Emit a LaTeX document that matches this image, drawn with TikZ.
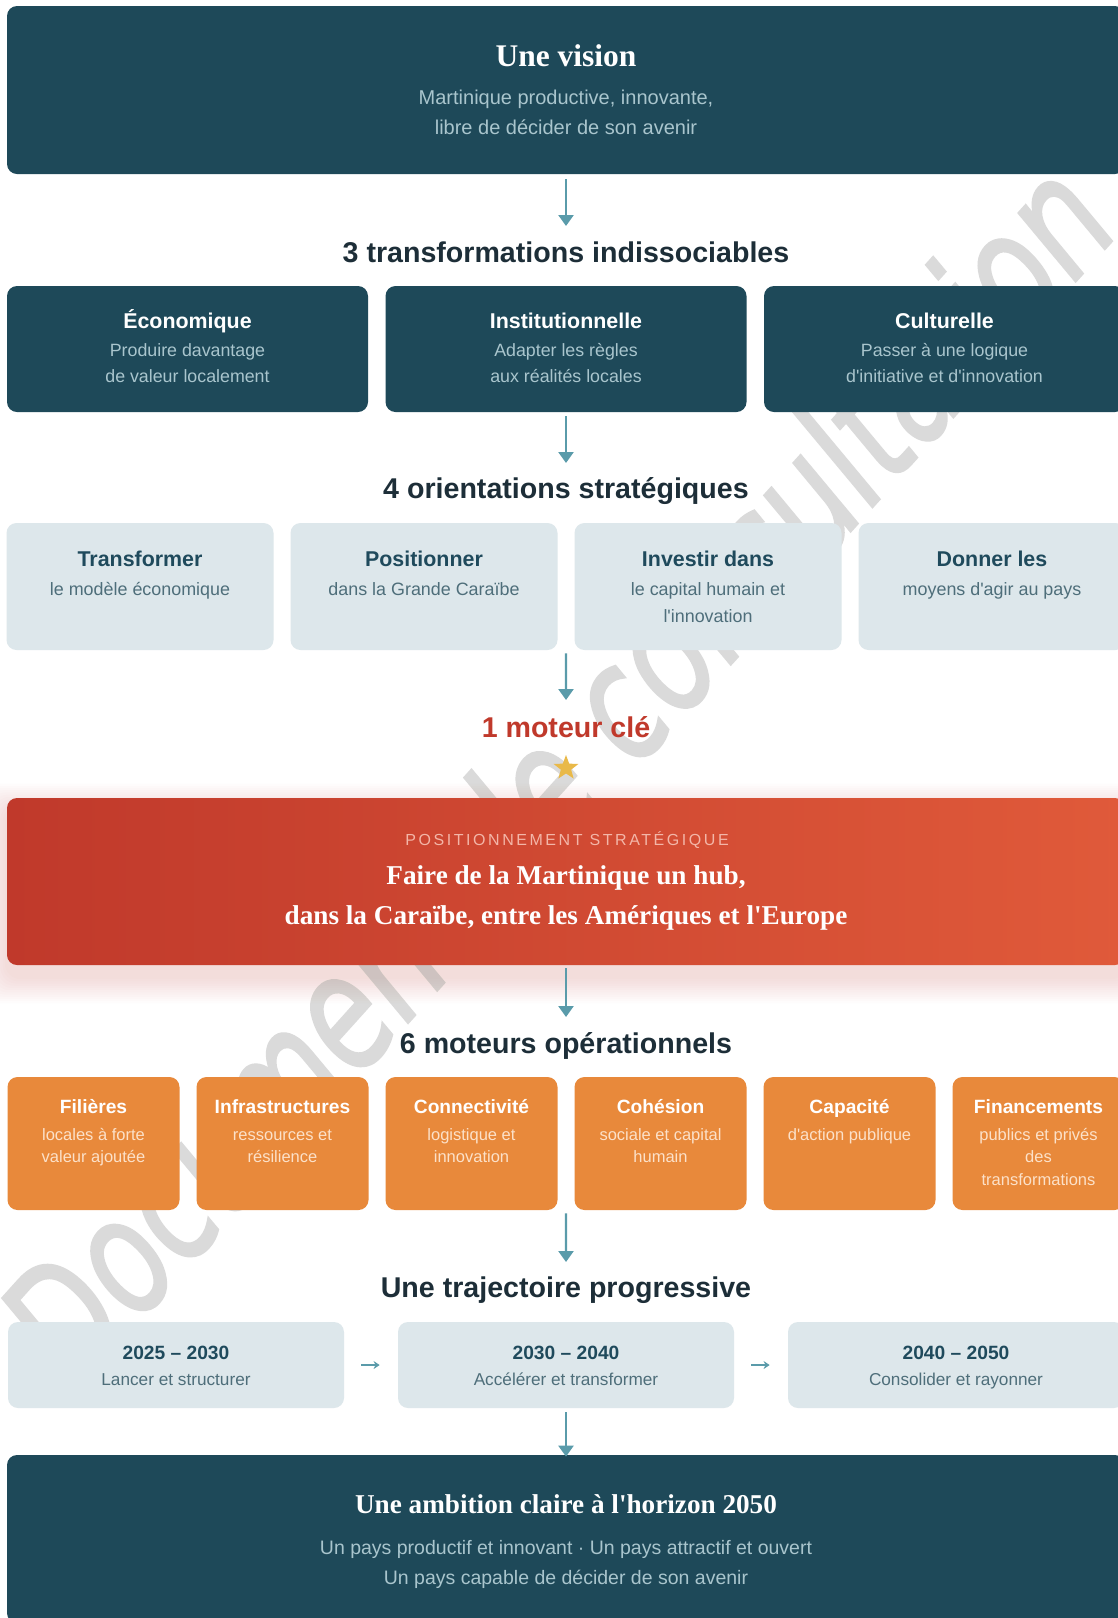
\documentclass[tikz,border=0pt]{standalone}
\usepackage{fontspec}
\setmainfont{Liberation Serif}[Ligatures=TeXOff]
\setsansfont{Liberation Sans}[Ligatures=TeXOff]
\newfontfamily\wmfont[FakeBold=1.8]{DejaVu Sans}
\newfontfamily\spacedfont[LetterSpace=16]{Liberation Sans}
\usetikzlibrary{arrows.meta, calc, shapes.geometric}

\definecolor{navy}{HTML}{1E4959}
\definecolor{ink}{HTML}{1D2E38}
\definecolor{pale}{HTML}{DDE7EB}
\definecolor{paletitle}{HTML}{1F4A5C}
\definecolor{palesub}{HTML}{4E6E7A}
\definecolor{orng}{HTML}{E8893B}
\definecolor{orngsub}{HTML}{FCE1C9}
\definecolor{subtle}{HTML}{A9C5CD}
\definecolor{hubA}{HTML}{C0392B}
\definecolor{hubB}{HTML}{E05A3A}
\definecolor{hublabel}{HTML}{F3B6A8}
\definecolor{flowc}{HTML}{5A9BAA}
\definecolor{gold}{HTML}{E9B949}
\definecolor{wm}{HTML}{DADADA}

\begin{document}
\begin{tikzpicture}[x=0.5pt, y=-0.5pt]

    \tikzstyle{darkbox} = [fill=navy, rounded corners=5pt, inner sep=0];
    \tikzstyle{palebox} = [fill=pale, rounded corners=5pt, inner sep=0];
    \tikzstyle{orangebox} = [fill=orng, rounded corners=5pt, inner sep=0];
    \tikzstyle{sectionhead} = [font=\sffamily\bfseries\fontsize{14.3}{17}\selectfont, text=ink, anchor=base, inner sep=0];
    \tikzstyle{serifhead} = [font=\rmfamily\bfseries\fontsize{13.6}{20.25}\selectfont, text=white, inner sep=0, align=center];
    \tikzstyle{navytitle} = [font=\sffamily\bfseries\fontsize{10.7}{13}\selectfont, text=white, anchor=base, inner sep=0];
    \tikzstyle{navysub} = [font=\sffamily\fontsize{8.9}{13}\selectfont, text=subtle, anchor=north, inner sep=0, align=center];
    \tikzstyle{paletitlet} = [font=\sffamily\bfseries\fontsize{10.7}{13}\selectfont, text=paletitle, anchor=base, inner sep=0];
    \tikzstyle{palesubt} = [font=\sffamily\fontsize{8.95}{13.35}\selectfont, text=palesub, anchor=north, inner sep=0, align=center];
    \tikzstyle{orangetitle} = [font=\sffamily\bfseries\fontsize{9.6}{11}\selectfont, text=white, anchor=base, inner sep=0];
    \tikzstyle{orangesub} = [font=\sffamily\fontsize{8.25}{11.25}\selectfont, text=orngsub, anchor=north, inner sep=0, align=center];
    \tikzstyle{phasetitle} = [font=\sffamily\bfseries\fontsize{9.6}{11}\selectfont, text=paletitle, anchor=base, inner sep=0];
    \tikzstyle{phasesub} = [font=\sffamily\fontsize{8.6}{11}\selectfont, text=palesub, anchor=base, inner sep=0];
    \tikzstyle{flowarrow} = [line width=1.2pt, draw=flowc, -{Triangle[width=7.5pt, length=5.5pt]}];
    \tikzstyle{phasearrow} = [line width=0.7pt, draw=flowc, -{Stealth[width=4pt, length=3pt]}, shorten <=8.5pt, shorten >=9pt];

    \useasboundingbox (0,0) rectangle (1118,1618);
    \fill[white] (0,0) rectangle (1118,1618);

    % Watermark
    \node[rotate=48, xscale=0.74, text=wm, font=\wmfont\itshape\fontsize{80}{84}\selectfont] (WM) at (555,770) {Document de consultation};

    % Vision
    \node[darkbox, minimum width=559pt, minimum height=84pt] (V) at (566,90) {};
    \node[serifhead, anchor=base, font=\rmfamily\bfseries\fontsize{15.75}{19}\selectfont] (VL) at (566,66) {Une vision};
    \node[navysub, font=\sffamily\fontsize{10}{15}\selectfont] (VD) at (566,83.5)
        {\strut Martinique productive, innovante,\\ libre de décider de son avenir};

    \node[sectionhead] (HT) at (566,262.5) {3 transformations indissociables};
    \draw[flowarrow] ([yshift=-2.5pt]V.south) -- ([yshift=18.25pt]HT.base);

    % Transformations
    \node[darkbox, minimum width=180.5pt, minimum height=63pt] (T1) at (187.5,349) {};
    \node[navytitle] (T1L) at (187.5,328.5) {Économique};
    \node[navysub] (T1D) at (187.5,337.8) {\strut Produire davantage\\ de valeur localement};

    \node[darkbox, minimum width=180.5pt, minimum height=63pt] (T2) at (566,349) {};
    \node[navytitle] (T2L) at (566,328.5) {Institutionnelle};
    \node[navysub] (T2D) at (566,337.8) {\strut Adapter les règles\\ aux réalités locales};

    \node[darkbox, minimum width=180.5pt, minimum height=63pt] (T3) at (944.5,349) {};
    \node[navytitle] (T3L) at (944.5,328.5) {Culturelle};
    \node[navysub] (T3D) at (944.5,337.8) {\strut Passer à une logique\\ d'initiative et d'innovation};

    \node[sectionhead] (HO) at (566,498.5) {4 orientations stratégiques};
    \draw[flowarrow] ([yshift=-2pt]T2.south) -- ([yshift=17.75pt]HO.base);

    % Orientations
    \node[palebox, minimum width=133.5pt, minimum height=63.5pt] (O1) at (140,586.5) {};
    \node[paletitlet] (O1L) at (140,566.7) {Transformer};
    \node[palesubt] (O1D) at (140,576.3) {\strut le modèle économique};

    \node[palebox, minimum width=133.5pt, minimum height=63.5pt] (O2) at (424,586.5) {};
    \node[paletitlet] (O2L) at (424,566.7) {Positionner};
    \node[palesubt] (O2D) at (424,576.3) {\strut dans la Grande Caraïbe};

    \node[palebox, minimum width=133.5pt, minimum height=63.5pt] (O3) at (708,586.5) {};
    \node[paletitlet] (O3L) at (708,566.7) {Investir dans};
    \node[palesubt] (O3D) at (708,576.3) {\strut le capital humain et\\ l'innovation};

    \node[palebox, minimum width=133.5pt, minimum height=63.5pt] (O4) at (992,586.5) {};
    \node[paletitlet] (O4L) at (992,566.7) {Donner les};
    \node[palesubt] (O4D) at (992,576.3) {\strut moyens d'agir au pays};

    \node[sectionhead, text=hubA] (HM) at (566,737) {1 moteur clé};
    \draw[flowarrow] ($(O2.south east)!.5!(O3.south west)+(0,3)$) -- ([yshift=18.5pt]HM.base);
    \node[star, star points=5, star point ratio=2.4, fill=gold, inner sep=0, minimum size=13pt] (S) at (566,768) {};

    % Hub
    \foreach \d in {1,...,12}
        \fill[hubA, opacity=0.013, rounded corners=8pt]
            ($(566,881.5)+(-559-2.2*\d,-83.5+12-2.2*\d)$) rectangle ($(566,881.5)+(559+2.2*\d,83.5+12+2.2*\d)$);
    \node[rounded corners=5pt, inner sep=0, left color=hubA, right color=hubB, minimum width=559pt, minimum height=83.5pt] (H) at (566,881.5) {};
    \node[font=\spacedfont\fontsize{8}{10}\selectfont, text=hublabel, anchor=base, inner sep=0] (HL) at (567,845) {POSITIONNEMENT STRATÉGIQUE};
    \node[serifhead, anchor=north] (HD) at (566,855.65)
        {\strut Faire de la Martinique un hub,\\ dans la Caraïbe, entre les Amériques et l'Europe};

    \node[sectionhead] (HS) at (566,1053.5) {6 moteurs opérationnels};
    \draw[flowarrow] ([yshift=-1.5pt]H.south) -- ([yshift=18.25pt]HS.base);

    % Moteurs
    \node[orangebox, minimum width=86pt, minimum height=66.5pt] (M1) at (93.5,1143.5) {};
    \node[orangetitle] (M1L) at (93.5,1113.3) {Filières};
    \node[orangesub] (M1D) at (93.5,1124.25) {\strut locales à forte\\ valeur ajoutée};

    \node[orangebox, minimum width=86pt, minimum height=66.5pt] (M2) at (282.5,1143.5) {};
    \node[orangetitle] (M2L) at (282.5,1113.3) {Infrastructures};
    \node[orangesub] (M2D) at (282.5,1124.25) {\strut ressources et\\ résilience};

    \node[orangebox, minimum width=86pt, minimum height=66.5pt] (M3) at (471.5,1143.5) {};
    \node[orangetitle] (M3L) at (471.5,1113.3) {Connectivité};
    \node[orangesub] (M3D) at (471.5,1124.25) {\strut logistique et\\ innovation};

    \node[orangebox, minimum width=86pt, minimum height=66.5pt] (M4) at (660.5,1143.5) {};
    \node[orangetitle] (M4L) at (660.5,1113.3) {Cohésion};
    \node[orangesub] (M4D) at (660.5,1124.25) {\strut sociale et capital\\ humain};

    \node[orangebox, minimum width=86pt, minimum height=66.5pt] (M5) at (849.5,1143.5) {};
    \node[orangetitle] (M5L) at (849.5,1113.3) {Capacité};
    \node[orangesub] (M5D) at (849.5,1124.25) {\strut d'action publique};

    \node[orangebox, minimum width=86pt, minimum height=66.5pt] (M6) at (1038.5,1143.5) {};
    \node[orangetitle] (M6L) at (1038.5,1113.3) {Financements};
    \node[orangesub] (M6D) at (1038.5,1124.25) {\strut publics et privés\\ des\\ transformations};

    \node[sectionhead] (HP) at (566,1297.5) {Une trajectoire progressive};
    \draw[flowarrow] ($(M3.south east)!.5!(M4.south west)+(0,3)$) -- ([yshift=17.75pt]HP.base);

    % Trajectoire
    \node[palebox, minimum width=168pt, minimum height=43pt] (P1) at (176,1365) {};
    \node[phasetitle] (P1L) at (176,1359) {2025 – 2030};
    \node[phasesub] (P1D) at (176,1385) {Lancer et structurer};

    \node[palebox, minimum width=168pt, minimum height=43pt] (P2) at (566,1365) {};
    \node[phasetitle] (P2L) at (566,1359) {2030 – 2040};
    \node[phasesub] (P2D) at (566,1385) {Accélérer et transformer};

    \node[palebox, minimum width=168pt, minimum height=43pt] (P3) at (956,1365) {};
    \node[phasetitle] (P3L) at (956,1359) {2040 – 2050};
    \node[phasesub] (P3D) at (956,1385) {Consolider et rayonner};

    \draw[phasearrow] (P1.east) -- (P2.west);
    \draw[phasearrow] (P2.east) -- (P3.west);

    % Ambition
    \node[darkbox, minimum width=559pt, minimum height=84pt] (A) at (566,1539) {};
    \node[serifhead, anchor=base] (AL) at (566,1513) {Une ambition claire à l'horizon 2050};
    \node[navysub, font=\sffamily\fontsize{9.75}{15}\selectfont] (AD) at (566,1533)
        {\strut Un pays productif et innovant · Un pays attractif et ouvert\\ Un pays capable de décider de son avenir};
    \draw[flowarrow] ([yshift=-2pt]P2.south) -- ([yshift=-1pt]A.north);

\end{tikzpicture}
\end{document}
